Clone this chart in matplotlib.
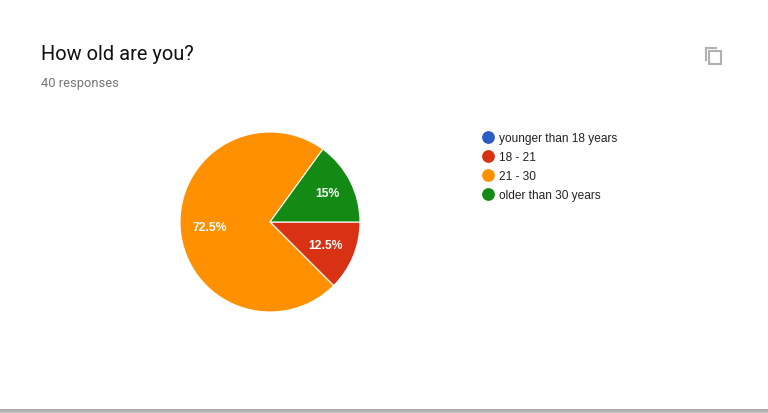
import matplotlib
matplotlib.use("Agg")
import matplotlib.pyplot as plt
import matplotlib.transforms as mtrans
from matplotlib.patches import Rectangle

plt.rcParams['font.family'] = ['Liberation Sans', 'DejaVu Sans']

# survey answers, percent
labels = ['younger than 18 years', '18 - 21', '21 - 30', 'older than 30 years']
values = [0, 12.5, 72.5, 15]
colors = ['#2b5bc4', '#d83114', '#ff9000', '#138a14']
pct_text = ['', '12.5%', '72.5%', '15%']

title = 'How old are you?'
subtitle = '40 responses'

W, H = 768, 413
fig = plt.figure(figsize=(W / 100, H / 100), dpi=100)
# axes in pixels, y going down like the screenshot
ax = fig.add_axes([0, 0, 1, 1])

wedges, _ = ax.pie(values, colors=colors, startangle=0, counterclock=False,
                   center=(270, 222), radius=90, frame=True,
                   wedgeprops={'edgecolor': 'white', 'linewidth': 0.8})
ax.set_xlim(0, W)
ax.set_ylim(0, H)
ax.set_aspect('equal')
ax.axis('off')
ax.invert_yaxis()

# pie() thinks y goes up, so flip the wedges round the centre
flip = mtrans.Affine2D().translate(-270, -222).scale(1, -1).translate(270, 222)
for w in wedges:
    w.set_transform(flip + ax.transData)

ax.text(41, 60, title, fontsize=14.4, family=['Roboto', 'DejaVu Sans'], color='#111111', va='baseline', ha='left')
ax.text(41, 87, subtitle, fontsize=9.3, family=['Roboto', 'DejaVu Sans'], color='#757575', va='baseline', ha='left')

# slice labels
ax.text(327.5, 197, pct_text[3], fontsize=8.7, fontweight='bold', color='white', ha='center', va='baseline')
ax.text(325.5, 249, pct_text[1], fontsize=8.7, fontweight='bold', color='white', ha='center', va='baseline')
ax.text(209.5, 231, pct_text[2], fontsize=8.7, fontweight='bold', color='white', ha='center', va='baseline')

# legend
for i, lab in enumerate(labels):
    y = 138 + i * 19
    ax.plot(487.5, y - 1, 'o', ms=9.2, color=colors[i], mec='none')
    ax.text(499, y + 4, lab, fontsize=8.6, color='#222222', va='baseline', ha='left')

# copy icon
ax.plot([705.5, 705.5, 716], [60, 47.5, 47.5], color='#b0b0b0', lw=1.5, solid_joinstyle='miter')
ax.add_patch(Rectangle((709, 51), 11.5, 13, fill=False, ec='#b0b0b0', lw=1.5))

# shadow along the bottom edge
for row, grey in zip(range(409, 413), ['#a9a9a9', '#b0b0b0', '#b8b8b8', '#c0c0c0']):
    ax.add_patch(Rectangle((0, row), W, 1, fc=grey, ec='none'))

fig.savefig('out.png', dpi=100, facecolor='white')
